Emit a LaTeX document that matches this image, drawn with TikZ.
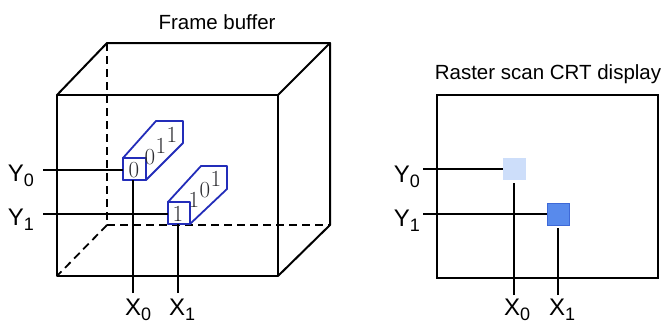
\documentclass[tikz,border=0pt]{standalone}
\usepackage{fontspec}
\setsansfont{Liberation Sans}
\definecolor{cellblue}{RGB}{35,45,185}
\definecolor{pixlight}{RGB}{205,222,250}
\definecolor{pixdark}{RGB}{88,138,236}
\definecolor{pixdarkedge}{RGB}{62,105,215}
\definecolor{bitgray}{RGB}{45,45,50}
\newcommand{\lsub}[1]{\raisebox{-5pt}{\fontsize{18}{18}\selectfont #1}}
\begin{document}
\begin{tikzpicture}[x=1pt,y=-1pt,
  edge/.style={line width=2pt, line join=round, line cap=round},
  hid/.style={line width=1.8pt, dash pattern=on 8pt off 5pt},
  cell/.style={draw=cellblue, line width=1.8pt, line join=round},
  lead/.style={line width=1.4pt},
  lab/.style={font=\sffamily\fontsize{24}{24}\selectfont, inner sep=0pt},
  ttl/.style={font=\sffamily\fontsize{20.5}{20.5}\selectfont, inner sep=0pt},
  bit/.style={font=\fontsize{23}{23}\selectfont, text=bitgray, inner sep=0pt}]
\useasboundingbox (0,0) rectangle (665,324);

% ---------- Frame buffer cube ----------
\node[ttl, anchor=base] (fbtitle) at (217,29) {Frame buffer};
\coordinate (F1) at (57,95);  \coordinate (F2) at (278,95);
\coordinate (F3) at (278,276); \coordinate (F4) at (57,276);
\coordinate (B1) at (107,43); \coordinate (B2) at (330,43);
\coordinate (B3) at (330,225); \coordinate (B4) at (107,225);
\draw[hid] (B1) -- (B4) -- (B3);
\draw[hid] (B4) -- (F4);
\draw[edge] (F1) rectangle (F3);
\draw[edge] (F1) -- (B1) -- (B2) -- (B3) -- (F3);
\draw[edge] (B2) -- (F2);

% cell A (Y0, X0)
\coordinate (aTL) at (123,158); \coordinate (aBR) at (146,180);
\filldraw[cell, fill=white] (123,158) -- (156,121) -- (183,121) -- (183,143) -- (146,180) -- (123,180) -- cycle;
\draw[cell] (aTL) rectangle (aBR);
\node[bit] (a0) at (134,170) {0};
\node[bit] (a1) at (150,157) {0};
\node[bit] (a2) at (161,146) {1};
\node[bit] (a3) at (172,135) {1};

% cell B (Y1, X1)
\coordinate (bTL) at (168,202); \coordinate (bBR) at (190,224);
\filldraw[cell, fill=white] (168,202) -- (201,166) -- (227,166) -- (227,189) -- (190,224) -- (168,224) -- cycle;
\draw[cell] (bTL) rectangle (bBR);
\node[bit] (b0) at (178,214) {1};
\node[bit] (b1) at (194,200) {1};
\node[bit] (b2) at (205,190) {0};
\node[bit] (b3) at (216,179) {1};

% labels and leads (left)
\node[lab, anchor=base east] (y0l) at (34,181) {Y\lsub{0}};
\node[lab, anchor=base east] (y1l) at (34,225) {Y\lsub{1}};
\node[lab, anchor=base west] (x0l) at (125,315) {X\lsub{0}};
\node[lab, anchor=base west] (x1l) at (169,315) {X\lsub{1}};
\coordinate (y0s) at (43,170); \coordinate (y1s) at (43,214);
\coordinate (x0s) at (133,293); \coordinate (x1s) at (178,293);
\draw[lead] (y0s) -- (y0s -| aTL);
\draw[lead] (y1s) -- (y1s -| bTL);
\draw[lead] (x0s) -- (x0s |- aBR);
\draw[lead] (x1s) -- (x1s |- bBR);

% ---------- Raster scan CRT display ----------
\node[ttl, anchor=base] (crttitle) at (548,79) {Raster scan CRT display};
\node[draw, line width=2pt, minimum width=221pt, minimum height=183pt, inner sep=0pt] (scr) at (547.5,186.5) {};
\node[fill=pixlight, minimum size=22.5pt, inner sep=0pt] (p0) at (514.5,169) {};
\node[fill=pixdark, draw=pixdarkedge, line width=0.8pt, minimum size=22pt, inner sep=0pt] (p1) at (558,214) {};
\node[lab, anchor=base east] (ry0l) at (420,182) {Y\lsub{0}};
\node[lab, anchor=base east] (ry1l) at (420,226) {Y\lsub{1}};
\node[lab, anchor=base west] (rx0l) at (504,315) {X\lsub{0}};
\node[lab, anchor=base west] (rx1l) at (549,315) {X\lsub{1}};
\coordinate (ry0s) at (423,169); \coordinate (ry1s) at (423,214);
\coordinate (rx0s) at (514,295); \coordinate (rx1s) at (558,295);
\coordinate (rx0e) at (514,183); \coordinate (rx1e) at (558,228);
\draw[lead] (ry0s) -- (p0.west);
\draw[lead] (ry1s) -- (p1.west);
\draw[lead] (rx0s) -- (rx0e);
\draw[lead] (rx1s) -- (rx1e);
\end{tikzpicture}
\end{document}
